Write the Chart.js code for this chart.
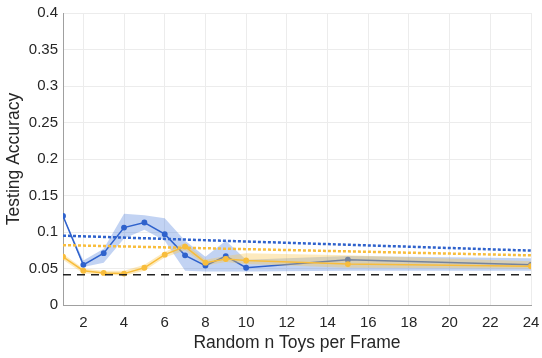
<!DOCTYPE html>
<html>
<head>
<meta charset="utf-8">
<script src="https://cdn.jsdelivr.net/npm/chart.js@4/dist/chart.umd.min.js"></script>
<style>
    html, body { margin: 0; padding: 0; background: #fff; }
    #wrap { width: 542px; height: 358px; }
</style>
</head>
<body>
<div id="wrap"><canvas id="acc"></canvas></div>
<script>
// Data
const nToys = [1, 2, 3, 4, 5, 6, 7, 8, 9, 10, 15, 24];

const blueMean = [0.122, 0.055, 0.071, 0.106, 0.113, 0.097, 0.068, 0.054, 0.067, 0.051, 0.062, 0.055];
const blueLow  = [0.121, 0.052, 0.058, 0.091, 0.103, 0.088, 0.047, 0.046, 0.046, 0.046, 0.047, 0.047];
const blueHigh = [0.123, 0.061, 0.077, 0.125, 0.123, 0.119, 0.088, 0.066, 0.088, 0.062, 0.067, 0.064];

const orangeMean = [0.066, 0.047, 0.044, 0.043, 0.051, 0.069, 0.080, 0.058, 0.063, 0.061, 0.056, 0.053];
const orangeLow  = [0.062, 0.043, 0.042, 0.040, 0.047, 0.065, 0.075, 0.054, 0.059, 0.056, 0.051, 0.050];
const orangeHigh = [0.070, 0.050, 0.047, 0.047, 0.055, 0.073, 0.085, 0.062, 0.067, 0.071, 0.068, 0.060];

const trendX = [1, 24];
const blueTrend = [0.095, 0.0745];
const orangeTrend = [0.082, 0.068];
const chanceLevel = [0.0415, 0.0415];

const xTicks = [2, 4, 6, 8, 10, 12, 14, 16, 18, 20, 22, 24];
const yTicks = [0, 0.05, 0.1, 0.15, 0.2, 0.25, 0.3, 0.35, 0.4];

const pts = (xs, ys) => xs.map((x, i) => ({ x: x, y: ys[i] }));

const BLUE = '#2f62cc';
const ORANGE = '#f8bd3c';
const FONT = 'Liberation Sans, Helvetica, Arial, sans-serif';

new Chart(document.getElementById('acc'), {
    type: 'line',
    data: {
        datasets: [
            // 0,1: blue band
            { data: pts(nToys, blueLow), borderWidth: 0, pointRadius: 0, fill: false, order: 6 },
            { data: pts(nToys, blueHigh), borderWidth: 0, pointRadius: 0,
              fill: { target: 0 }, backgroundColor: 'rgba(70,120,220,0.33)', order: 6 },
            // 2: blue line
            { data: pts(nToys, blueMean), borderColor: BLUE, backgroundColor: BLUE,
              borderWidth: 1.5, pointRadius: 2.2, fill: false, order: 5 },
            // 3,4: orange band
            { data: pts(nToys, orangeLow), borderWidth: 0, pointRadius: 0, fill: false, order: 4 },
            { data: pts(nToys, orangeHigh), borderWidth: 0, pointRadius: 0,
              fill: { target: 3 }, backgroundColor: 'rgba(250,195,70,0.35)', order: 4 },
            // 5: orange line
            { data: pts(nToys, orangeMean), borderColor: ORANGE, backgroundColor: ORANGE,
              borderWidth: 1.5, pointRadius: 2.2, fill: false, order: 3 },
            // trends
            { data: pts(trendX, blueTrend), borderColor: BLUE, borderWidth: 2.5,
              borderDash: [3, 2], pointRadius: 0, fill: false, order: 2 },
            { data: pts(trendX, orangeTrend), borderColor: ORANGE, borderWidth: 2.5,
              borderDash: [3, 2], pointRadius: 0, fill: false, order: 2 },
            // chance
            { data: pts(trendX, chanceLevel), borderColor: '#222', borderWidth: 1.5,
              borderDash: [8, 6], pointRadius: 0, fill: false, order: 1 }
        ]
    },
    options: {
        responsive: true,
        maintainAspectRatio: false,
        animation: false,
        layout: { padding: { top: 13, right: 11, left: 0, bottom: 0 } },
        plugins: { legend: { display: false }, tooltip: { enabled: false } },
        scales: {
            x: {
                type: 'linear',
                min: 1, max: 24,
                afterBuildTicks: s => { s.ticks = xTicks.map(v => ({ value: v })); },
                afterFit: s => { s.height = 53; s.paddingLeft = 0; s.paddingRight = 0; },
                grid: { color: '#ececec', drawTicks: false },
                border: { color: '#a0a0a0' },
                ticks: { color: '#262626', padding: 9, font: { family: FONT, size: 15 } },
                title: { display: true, text: 'Random n Toys per Frame', color: '#262626',
                         padding: { top: 0 }, font: { family: FONT, size: 17.5 } }
            },
            y: {
                min: 0, max: 0.4,
                afterBuildTicks: s => { s.ticks = yTicks.map(v => ({ value: v })); },
                afterFit: s => { s.width = 63; s.paddingTop = 0; s.paddingBottom = 0; },
                grid: { color: '#ececec', drawTicks: false },
                border: { color: '#a0a0a0' },
                ticks: { color: '#262626', padding: 5, font: { family: FONT, size: 15 },
                         callback: v => String(+v.toFixed(2)) },
                title: { display: true, text: 'Testing Accuracy', color: '#262626',
                         padding: { bottom: 0 }, font: { family: FONT, size: 17.5 } }
            }
        }
    }
});
</script>
</body>
</html>
